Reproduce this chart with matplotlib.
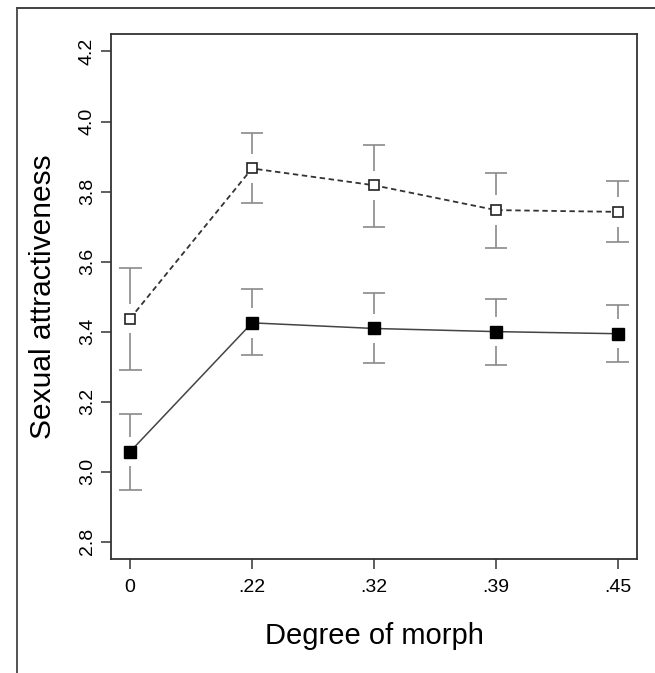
import numpy as np
import matplotlib
matplotlib.use("Agg")
import matplotlib.pyplot as plt
from matplotlib.lines import Line2D

# morph levels (categorical x)
morph_labels = ["0", ".22", ".32", ".39", ".45"]

# open squares, dashed line
open_mean = [3.437, 3.866, 3.818, 3.747, 3.742]
open_hi = [3.582, 3.966, 3.934, 3.854, 3.831]
open_lo = [3.289, 3.768, 3.699, 3.640, 3.656]

# filled squares, solid line
filled_mean = [3.057, 3.425, 3.409, 3.400, 3.394]
filled_hi = [3.166, 3.521, 3.509, 3.494, 3.475]
filled_lo = [2.948, 3.332, 3.311, 3.306, 3.313]

yticks = [2.8, 3.0, 3.2, 3.4, 3.6, 3.8, 4.0, 4.2]

plt.rcParams['font.family'] = ['Liberation Sans', 'DejaVu Sans']

fig = plt.figure(figsize=(6.55, 6.73), dpi=100)
ax = fig.add_axes([0.1695, 0.1701, 0.803, 0.7794])

x = np.arange(len(morph_labels))

gap = 0.042     # white gap of error bars around the marker
cap = 0.094     # half cap width
err_color = "#8a8a8a"

def draw_errors(means, lo, hi):
    means = np.asarray(means)
    ax.vlines(x, means + gap, hi, color=err_color, lw=1.2, zorder=2)
    ax.vlines(x, lo, means - gap, color=err_color, lw=1.2, zorder=2)
    ax.hlines(hi, x - cap, x + cap, color=err_color, lw=1.2, zorder=2)
    ax.hlines(lo, x - cap, x + cap, color=err_color, lw=1.2, zorder=2)

draw_errors(open_mean, open_lo, open_hi)
draw_errors(filled_mean, filled_lo, filled_hi)

ax.plot(x, open_mean, color="#333333", lw=1.3, ls=(0, (3, 2)),
        marker="s", ms=7.5, mfc="white", mec="#222222", mew=1.2, zorder=3)
ax.plot(x, filled_mean, color="#444444", lw=1.1, ls="-",
        marker="s", ms=8, mfc="black", mec="black", mew=1, zorder=3)

ax.set_xlim(-0.156, 4.156)
ax.set_ylim(2.752, 4.25)
ax.set_xticks(x)
ax.set_xticklabels(morph_labels)
ax.set_yticks(yticks)
ax.set_yticklabels([f"{v:.1f}" for v in yticks], rotation=90, va="center")

ax.tick_params(axis="both", direction="out", length=7.5, width=1.1,
               color="#333333", labelsize=14)
ax.tick_params(axis="x", pad=7.5)
ax.tick_params(axis="y", pad=3.5)

for s in ax.spines.values():
    s.set_linewidth(1.3)
    s.set_color("#333333")

ax.set_xlabel("Degree of morph", fontsize=21)
ax.set_ylabel("Sexual attractiveness", fontsize=21.5)
ax.xaxis.set_label_coords(0.5, -0.148)
ax.xaxis.label.set_va("center")
ax.yaxis.set_label_coords(-0.129, 0.5)
ax.yaxis.label.set_va("center")

# outer frame (top and left edges)
fig.add_artist(Line2D([16.7 / 655, 1], [1 - 7.5 / 673] * 2,
                      transform=fig.transFigure, color="#333333", lw=1.3))
fig.add_artist(Line2D([16.7 / 655] * 2, [0, 1 - 7.5 / 673],
                      transform=fig.transFigure, color="#444444", lw=1.3))

fig.savefig("out.png", dpi=100)
